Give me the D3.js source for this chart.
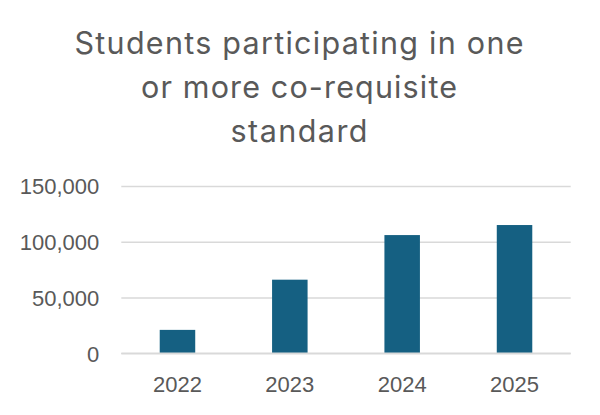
<!DOCTYPE html>
<html>
<head>
<meta charset="utf-8">
<script src="https://cdn.jsdelivr.net/npm/d3@7"></script>
<style>
  html, body { margin: 0; padding: 0; background: #fff; }
  svg { display: block; }
</style>
</head>
<body>
<svg id="chart" width="600" height="415"></svg>
<script>
const titleLines = ["Students participating in one", "or more co-requisite", "standard"];
const years = ["2022", "2023", "2024", "2025"];
const students = [21000, 66000, 106000, 115000];
const yTicks = [0, 50000, 100000, 150000];

const svg = d3.select("#chart");
const W = 600, H = 415;
const margin = { left: 121.3, right: 600 - 570.7, top: 186, bottom: 415 - 353.3 };

const x = d3.scaleBand().domain(years).range([margin.left, W - margin.right]).padding(0);
const y = d3.scaleLinear().domain([0, 150000]).range([H - margin.bottom, margin.top]);

const textColor = "#595959";
const gridColor = "#D9D9D9";
const barColor = "#156082";
const font = "'Liberation Sans', Arial, sans-serif";
const titleFont = "Inter, 'Open Sans', sans-serif";

// Title
const titleWidths = [449, 316, 137];
svg.append("g").selectAll("text").data(titleLines).join("text")
  .attr("x", 299)
  .attr("y", (d, i) => 54.3 + i * 43.7)
  .attr("text-anchor", "middle")
  .attr("font-family", titleFont)
  .attr("font-size", 30.5)
  .attr("fill", textColor)
  .attr("textLength", (d, i) => titleWidths[i])
  .attr("lengthAdjust", "spacing")
  .text(d => d);

// Gridlines
const yAxis = d3.axisLeft(y).tickValues(yTicks)
  .tickSize(-(W - margin.left - margin.right))
  .tickPadding(22)
  .tickFormat(d3.format(","));
const gy = svg.append("g").attr("transform", `translate(${margin.left},0)`).call(yAxis);
gy.select(".domain").remove();
gy.selectAll(".tick line").attr("stroke", gridColor).attr("stroke-width", 1.4);
gy.selectAll(".tick text")
  .attr("font-family", font).attr("font-size", 22).attr("fill", textColor)
  .attr("dy", "0.36em");

// Bars
const barW = x.bandwidth() * 0.316;
svg.append("g").selectAll("rect").data(years).join("rect")
  .attr("x", d => x(d) + (x.bandwidth() - barW) / 2)
  .attr("width", barW)
  .attr("y", (d, i) => y(students[i]))
  .attr("height", (d, i) => y(0) - y(students[i]))
  .attr("fill", barColor);

// Baseline
svg.append("line")
  .attr("x1", margin.left).attr("x2", W - margin.right)
  .attr("y1", y(0)).attr("y2", y(0))
  .attr("stroke", gridColor).attr("stroke-width", 1.6);

// X axis labels
const xAxis = d3.axisBottom(x).tickSize(0).tickPadding(0);
const gx = svg.append("g").attr("transform", `translate(0,${y(0)})`).call(xAxis);
gx.select(".domain").remove();
gx.selectAll(".tick text")
  .attr("font-family", font).attr("font-size", 22).attr("fill", textColor)
  .attr("dy", null).attr("y", 38.4);
</script>
</body>
</html>
